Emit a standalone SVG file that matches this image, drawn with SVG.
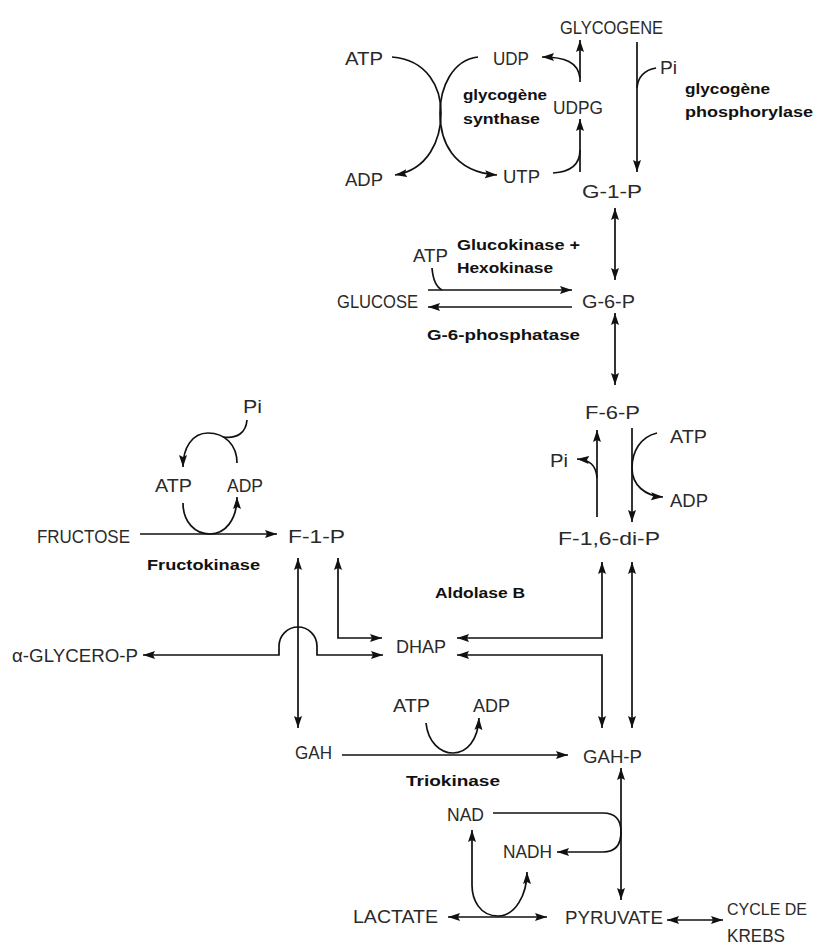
<svg xmlns="http://www.w3.org/2000/svg" width="820" height="947" viewBox="0 0 820 947">
<style>
.t{font-family:"Liberation Sans",Arial,sans-serif;font-size:19px;fill:#2a2a2a;}
.b{font-family:"Liberation Sans",Arial,sans-serif;font-size:14px;font-weight:bold;fill:#111;}
.c{fill:none;stroke:#111;stroke-width:1.7;}
.a{marker-end:url(#ah);}
.aa{marker-start:url(#ah);marker-end:url(#ah);}
</style>
<defs>
<marker id="ah" markerUnits="userSpaceOnUse" markerWidth="13" markerHeight="9" refX="12" refY="4" orient="auto-start-reverse" viewBox="0 0 13 9">
<path d="M0,0 L12,4 L0,8 L2,4 z" fill="#111"/>
</marker>
</defs>
<rect width="820" height="947" fill="#fff"/>
<g id="connectors">
<path class="c a" d="M637,42 L637,172"/>
<path class="c" d="M656,68 C645,70 638,76 637,88"/>
<path class="c a" d="M580,82 L580,40"/>
<path class="c a" d="M580,78 C578,62 565,57 542,57"/>
<path class="c a" d="M580,172 L580,119"/>
<path class="c" d="M553,173 C570,172 580,165 580,150"/>
<path class="c a" d="M392,57 C428,60 441,88 441,113 C441,140 428,170 395,175"/>
<path class="c a" d="M478,57 C452,60 440,88 440,113 C440,140 452,172 497,175"/>
<path class="c aa" d="M615,208 L615,280"/>
<path class="c a" d="M428,290 L572,290"/>
<path class="c a" d="M572,307 L428,307"/>
<path class="c" d="M432,268 C433,280 436,287 442,290"/>
<path class="c aa" d="M615,313 L615,385"/>
<path class="c a" d="M597,517 L597,430"/>
<path class="c a" d="M597,478 C596,465 590,460 577,459"/>
<path class="c a" d="M632,428 L632,522"/>
<path class="c a" d="M657,433 C640,437 632,452 632,468 C632,485 645,496 663,497"/>
<path class="c a" d="M237,463 C237,445 225,433 208,433 C192,433 183,448 183,467"/>
<path class="c" d="M247,420 C246,432 238,439 223,437"/>
<path class="c a" d="M183,503 C183,522 195,534 210,534 C225,534 237,520 237,497"/>
<path class="c a" d="M140,534 L277,534"/>
<path class="c aa" d="M298,558 L298,728"/>
<path class="c aa" d="M338,558 L338,638 L382,638"/>
<path class="c aa" d="M143,655 L279,655 L279,646 A19,19 0 0 1 317,646 L317,655 L383,655"/>
<path class="c aa" d="M602,562 L602,638 L457,638"/>
<path class="c aa" d="M457,655 L602,655 L602,728"/>
<path class="c aa" d="M632,562 L632,728"/>
<path class="c a" d="M342,755 L568,755"/>
<path class="c a" d="M426,723 C428,742 440,753 453,753 C467,753 478,740 479,718"/>
<path class="c a" d="M493,813 L603,813 C615,813 621,820 621,832 C621,845 615,852 603,852 L557,852"/>
<path class="c aa" d="M621,768 L621,900"/>
<path class="c aa" d="M527,872 C527,895 515,916 498,916 C480,916 472,900 472,885 L472,830"/>
<path class="c aa" d="M448,917 L547,917"/>
<path class="c aa" d="M667,920 L723,920"/>
</g>
<g id="glycogene"><text class="t" x="560" y="34" textLength="103" lengthAdjust="spacingAndGlyphs">GLYCOGENE</text></g>
<g id="atp1"><text class="t" x="345" y="65" textLength="38" lengthAdjust="spacingAndGlyphs">ATP</text></g>
<g id="udp"><text class="t" x="493" y="65" textLength="36" lengthAdjust="spacingAndGlyphs">UDP</text></g>
<g id="pi1"><text class="t" x="660" y="74" textLength="17" lengthAdjust="spacingAndGlyphs">Pi</text></g>
<g id="udpg"><text class="t" x="553" y="114" textLength="50" lengthAdjust="spacingAndGlyphs">UDPG</text></g>
<g id="adp1"><text class="t" x="345" y="186" textLength="38" lengthAdjust="spacingAndGlyphs">ADP</text></g>
<g id="utp"><text class="t" x="503" y="183" textLength="37" lengthAdjust="spacingAndGlyphs">UTP</text></g>
<g id="g1p"><text class="t" x="582" y="198" textLength="60" lengthAdjust="spacingAndGlyphs">G-1-P</text></g>
<g id="synthase"><text class="b" x="463" y="100" textLength="84" lengthAdjust="spacingAndGlyphs">glycogène</text><text class="b" x="463" y="124" textLength="77" lengthAdjust="spacingAndGlyphs">synthase</text></g>
<g id="phosphorylase"><text class="b" x="685" y="94" textLength="85" lengthAdjust="spacingAndGlyphs">glycogène</text><text class="b" x="685" y="117" textLength="128" lengthAdjust="spacingAndGlyphs">phosphorylase</text></g>
<g id="atp2"><text class="t" x="413" y="262" textLength="35" lengthAdjust="spacingAndGlyphs">ATP</text></g>
<g id="glucokinase"><text class="b" x="457" y="250" textLength="123" lengthAdjust="spacingAndGlyphs">Glucokinase +</text><text class="b" x="457" y="273" textLength="96" lengthAdjust="spacingAndGlyphs">Hexokinase</text></g>
<g id="glucose"><text class="t" x="337" y="308" textLength="81" lengthAdjust="spacingAndGlyphs">GLUCOSE</text></g>
<g id="g6p"><text class="t" x="582" y="308" textLength="53" lengthAdjust="spacingAndGlyphs">G-6-P</text></g>
<g id="g6phosphatase"><text class="b" x="427" y="340" textLength="153" lengthAdjust="spacingAndGlyphs">G-6-phosphatase</text></g>
<g id="f6p"><text class="t" x="585" y="419" textLength="55" lengthAdjust="spacingAndGlyphs">F-6-P</text></g>
<g id="pi2"><text class="t" x="550" y="467" textLength="18" lengthAdjust="spacingAndGlyphs">Pi</text></g>
<g id="atp3"><text class="t" x="670" y="443" textLength="37" lengthAdjust="spacingAndGlyphs">ATP</text></g>
<g id="adp3"><text class="t" x="670" y="507" textLength="38" lengthAdjust="spacingAndGlyphs">ADP</text></g>
<g id="f16dip"><text class="t" x="558" y="545" textLength="102" lengthAdjust="spacingAndGlyphs">F-1,6-di-P</text></g>
<g id="pi3"><text class="t" x="243" y="413" textLength="19" lengthAdjust="spacingAndGlyphs">Pi</text></g>
<g id="atp4"><text class="t" x="155" y="492" textLength="37" lengthAdjust="spacingAndGlyphs">ATP</text></g>
<g id="adp4"><text class="t" x="227" y="492" textLength="36" lengthAdjust="spacingAndGlyphs">ADP</text></g>
<g id="fructose"><text class="t" x="37" y="543" textLength="93" lengthAdjust="spacingAndGlyphs">FRUCTOSE</text></g>
<g id="f1p"><text class="t" x="288" y="543" textLength="57" lengthAdjust="spacingAndGlyphs">F-1-P</text></g>
<g id="fructokinase"><text class="b" x="147" y="570" textLength="113" lengthAdjust="spacingAndGlyphs">Fructokinase</text></g>
<g id="aldolase"><text class="b" x="435" y="598" textLength="90" lengthAdjust="spacingAndGlyphs">Aldolase B</text></g>
<g id="glycerop"><text class="t" x="12" y="662" textLength="126" lengthAdjust="spacingAndGlyphs">α-GLYCERO-P</text></g>
<g id="dhap"><text class="t" x="396" y="653" textLength="50" lengthAdjust="spacingAndGlyphs">DHAP</text></g>
<g id="atp5"><text class="t" x="393" y="712" textLength="37" lengthAdjust="spacingAndGlyphs">ATP</text></g>
<g id="adp5"><text class="t" x="473" y="712" textLength="37" lengthAdjust="spacingAndGlyphs">ADP</text></g>
<g id="gah"><text class="t" x="295" y="759" textLength="37" lengthAdjust="spacingAndGlyphs">GAH</text></g>
<g id="gahp"><text class="t" x="583" y="763" textLength="59" lengthAdjust="spacingAndGlyphs">GAH-P</text></g>
<g id="triokinase"><text class="b" x="406" y="786" textLength="94" lengthAdjust="spacingAndGlyphs">Triokinase</text></g>
<g id="nad"><text class="t" x="447" y="821" textLength="37" lengthAdjust="spacingAndGlyphs">NAD</text></g>
<g id="nadh"><text class="t" x="503" y="858" textLength="49" lengthAdjust="spacingAndGlyphs">NADH</text></g>
<g id="lactate"><text class="t" x="353" y="923" textLength="85" lengthAdjust="spacingAndGlyphs">LACTATE</text></g>
<g id="pyruvate"><text class="t" x="565" y="924" textLength="98" lengthAdjust="spacingAndGlyphs">PYRUVATE</text></g>
<g id="krebs"><text class="t" x="727" y="915" style="font-size:17px" textLength="80" lengthAdjust="spacingAndGlyphs">CYCLE DE</text><text class="t" x="727" y="942" textLength="58" lengthAdjust="spacingAndGlyphs">KREBS</text></g>
</svg>
